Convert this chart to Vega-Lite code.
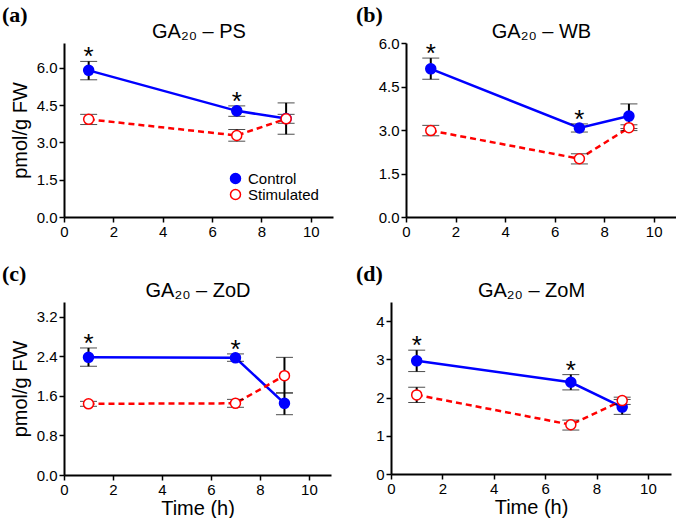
{
  "$schema": "https://vega.github.io/schema/vega-lite/v6.json",
  "padding": {"left": 2, "top": 4, "right": 0, "bottom": 0},
  "background": "white",
  "datasets": {
    "ga": [
      {"panel": "PS", "group": "Control", "time": 1, "mean": 5.9, "lo": 5.52, "hi": 6.26, "sig": 1},
      {"panel": "PS", "group": "Control", "time": 7, "mean": 4.27, "lo": 4.05, "hi": 4.47, "sig": 1},
      {"panel": "PS", "group": "Control", "time": 9, "mean": 3.96, "lo": 3.33, "hi": 4.59, "sig": 0},
      {"panel": "PS", "group": "Stimulated", "time": 1, "mean": 3.93, "lo": 3.72, "hi": 4.13, "sig": 0},
      {"panel": "PS", "group": "Stimulated", "time": 7, "mean": 3.28, "lo": 3.05, "hi": 3.52, "sig": 0},
      {"panel": "PS", "group": "Stimulated", "time": 9, "mean": 3.95, "lo": 3.77, "hi": 4.13, "sig": 0},
      {"panel": "WB", "group": "Control", "time": 1, "mean": 5.11, "lo": 4.75, "hi": 5.48, "sig": 1},
      {"panel": "WB", "group": "Control", "time": 7, "mean": 3.07, "lo": 2.93, "hi": 3.21, "sig": 1},
      {"panel": "WB", "group": "Control", "time": 9, "mean": 3.48, "lo": 3.05, "hi": 3.9, "sig": 0},
      {"panel": "WB", "group": "Stimulated", "time": 1, "mean": 2.98, "lo": 2.8, "hi": 3.16, "sig": 0},
      {"panel": "WB", "group": "Stimulated", "time": 7, "mean": 2.01, "lo": 1.83, "hi": 2.18, "sig": 0},
      {"panel": "WB", "group": "Stimulated", "time": 9, "mean": 3.08, "lo": 2.98, "hi": 3.18, "sig": 0},
      {"panel": "ZoD", "group": "Control", "time": 1, "mean": 2.38, "lo": 2.2, "hi": 2.57, "sig": 1},
      {"panel": "ZoD", "group": "Control", "time": 7, "mean": 2.37, "lo": 2.3, "hi": 2.45, "sig": 1},
      {"panel": "ZoD", "group": "Control", "time": 9, "mean": 1.45, "lo": 1.22, "hi": 1.66, "sig": 0},
      {"panel": "ZoD", "group": "Stimulated", "time": 1, "mean": 1.44, "lo": 1.39, "hi": 1.49, "sig": 0},
      {"panel": "ZoD", "group": "Stimulated", "time": 7, "mean": 1.45, "lo": 1.37, "hi": 1.53, "sig": 0},
      {"panel": "ZoD", "group": "Stimulated", "time": 9, "mean": 2.01, "lo": 1.66, "hi": 2.38, "sig": 0},
      {"panel": "ZoM", "group": "Control", "time": 1, "mean": 2.96, "lo": 2.68, "hi": 3.24, "sig": 1},
      {"panel": "ZoM", "group": "Control", "time": 7, "mean": 2.4, "lo": 2.2, "hi": 2.6, "sig": 1},
      {"panel": "ZoM", "group": "Control", "time": 9, "mean": 1.75, "lo": 1.56, "hi": 1.95, "sig": 0},
      {"panel": "ZoM", "group": "Stimulated", "time": 1, "mean": 2.07, "lo": 1.87, "hi": 2.27, "sig": 0},
      {"panel": "ZoM", "group": "Stimulated", "time": 7, "mean": 1.29, "lo": 1.15, "hi": 1.41, "sig": 0},
      {"panel": "ZoM", "group": "Stimulated", "time": 9, "mean": 1.92, "lo": 1.82, "hi": 2.01, "sig": 0}
    ]
  },
  "vconcat": [
    {
      "hconcat": [
        {
          "width": 269, "height": 174,
          "title": {"text": "(a)", "anchor": "start", "frame": "group", "dx": -62, "offset": -6, "font": "Liberation Serif", "fontWeight": "bold", "fontSize": 22, "color": "black"},
          "data": {"name": "ga"},
          "transform": [{"filter": "datum.panel == 'PS'"}],
          "layer": [
            {"transform": [{"filter": "datum.group == 'Control'"}],
             "mark": {"type": "line", "strokeWidth": 2.5, "color": "#0000FF"},
             "encoding": {
               "x": {"field": "time", "type": "quantitative", "scale": {"domain": [0, 10.9], "nice": false}, "axis": {"values": [0, 2, 4, 6, 8, 10], "title": null}},
               "y": {"field": "mean", "type": "quantitative", "scale": {"domain": [0, 7], "nice": false}, "axis": {"values": [0, 1.5, 3, 4.5, 6], "format": ".1f", "title": "pmol/g FW"}}
             }},
            {"transform": [{"filter": "datum.group == 'Stimulated'"}],
             "mark": {"type": "line", "strokeWidth": 2.5, "color": "#FF0000", "strokeDash": [6, 4]},
             "encoding": {
               "x": {"field": "time", "type": "quantitative", "scale": {"domain": [0, 10.9], "nice": false}, "axis": null},
               "y": {"field": "mean", "type": "quantitative", "scale": {"domain": [0, 7], "nice": false}, "title": "pmol/g FW"}
             }},
            {"mark": {"type": "errorbar", "ticks": {"size": 17, "strokeWidth": 2}, "rule": {"strokeWidth": 2}, "color": "black"},
             "encoding": {
               "x": {"field": "time", "type": "quantitative", "scale": {"domain": [0, 10.9], "nice": false}, "axis": null},
               "y": {"field": "lo", "type": "quantitative", "scale": {"domain": [0, 7], "nice": false}, "title": "pmol/g FW"},
               "y2": {"field": "hi"}
             }},
            {"mark": {"type": "point", "shape": "circle", "size": 100, "strokeWidth": 1.5, "opacity": 1, "fillOpacity": 1},
             "encoding": {
               "x": {"field": "time", "type": "quantitative", "scale": {"domain": [0, 10.9], "nice": false}, "axis": null},
               "y": {"field": "mean", "type": "quantitative", "scale": {"domain": [0, 7], "nice": false}, "title": "pmol/g FW"},
               "color": {"field": "group", "type": "nominal", "scale": {"domain": ["Control", "Stimulated"], "range": ["#0000FF", "#FF0000"]},
                 "legend": {"title": null, "orient": "bottom-right", "offset": 14, "labelFontSize": 15, "labelFont": "Liberation Sans", "labelColor": "black", "symbolType": "circle", "symbolSize": 100, "symbolStrokeWidth": 1.5, "labelOffset": 5, "rowPadding": -2, "padding": 0}},
               "fill": {"field": "group", "type": "nominal", "scale": {"domain": ["Control", "Stimulated"], "range": ["#0000FF", "#FFFFFF"]},
                 "legend": {"title": null, "orient": "bottom-right", "offset": 14, "labelFontSize": 15, "labelFont": "Liberation Sans", "labelColor": "black", "symbolType": "circle", "symbolSize": 100, "symbolStrokeWidth": 1.5, "labelOffset": 5, "rowPadding": -2, "padding": 0}}
             }},
            {"transform": [{"filter": "datum.sig == 1"}],
             "mark": {"type": "text", "text": "*", "fontSize": 26, "font": "Liberation Sans", "baseline": "alphabetic", "dy": 4, "color": "black"},
             "encoding": {
               "x": {"field": "time", "type": "quantitative", "scale": {"domain": [0, 10.9], "nice": false}, "axis": {"orient": "top", "title": "GA₂₀ – PS", "domain": false, "ticks": false, "labels": false, "titlePadding": 2}},
               "y": {"field": "hi", "type": "quantitative", "scale": {"domain": [0, 7], "nice": false}, "title": "pmol/g FW"}
             }}
          ],
          "resolve": {"axis": {"x": "independent"}}
        },
        {
          "width": 270, "height": 174,
          "title": {"text": "(b)", "anchor": "start", "frame": "group", "dx": -50, "offset": -6, "font": "Liberation Serif", "fontWeight": "bold", "fontSize": 22, "color": "black"},
          "data": {"name": "ga"},
          "transform": [{"filter": "datum.panel == 'WB'"}],
          "layer": [
            {"transform": [{"filter": "datum.group == 'Control'"}],
             "mark": {"type": "line", "strokeWidth": 2.5, "color": "#0000FF"},
             "encoding": {
               "x": {"field": "time", "type": "quantitative", "scale": {"domain": [0, 10.9], "nice": false}, "axis": {"values": [0, 2, 4, 6, 8, 10], "title": null}},
               "y": {"field": "mean", "type": "quantitative", "scale": {"domain": [0, 6], "nice": false}, "axis": {"values": [0, 1.5, 3, 4.5, 6], "format": ".1f", "title": null}}
             }},
            {"transform": [{"filter": "datum.group == 'Stimulated'"}],
             "mark": {"type": "line", "strokeWidth": 2.5, "color": "#FF0000", "strokeDash": [6, 4]},
             "encoding": {
               "x": {"field": "time", "type": "quantitative", "scale": {"domain": [0, 10.9], "nice": false}, "axis": null},
               "y": {"field": "mean", "type": "quantitative", "scale": {"domain": [0, 6], "nice": false}}
             }},
            {"mark": {"type": "errorbar", "ticks": {"size": 17, "strokeWidth": 2}, "rule": {"strokeWidth": 2}, "color": "black"},
             "encoding": {
               "x": {"field": "time", "type": "quantitative", "scale": {"domain": [0, 10.9], "nice": false}, "axis": null},
               "y": {"field": "lo", "type": "quantitative", "scale": {"domain": [0, 6], "nice": false}},
               "y2": {"field": "hi"}
             }},
            {"mark": {"type": "point", "shape": "circle", "size": 100, "strokeWidth": 1.5, "opacity": 1, "fillOpacity": 1},
             "encoding": {
               "x": {"field": "time", "type": "quantitative", "scale": {"domain": [0, 10.9], "nice": false}, "axis": null},
               "y": {"field": "mean", "type": "quantitative", "scale": {"domain": [0, 6], "nice": false}},
               "color": {"field": "group", "type": "nominal", "scale": {"domain": ["Control", "Stimulated"], "range": ["#0000FF", "#FF0000"]}, "legend": null},
               "fill": {"field": "group", "type": "nominal", "scale": {"domain": ["Control", "Stimulated"], "range": ["#0000FF", "#FFFFFF"]}, "legend": null}
             }},
            {"transform": [{"filter": "datum.sig == 1"}],
             "mark": {"type": "text", "text": "*", "fontSize": 26, "font": "Liberation Sans", "baseline": "alphabetic", "dy": 4, "color": "black"},
             "encoding": {
               "x": {"field": "time", "type": "quantitative", "scale": {"domain": [0, 10.9], "nice": false}, "axis": {"orient": "top", "title": "GA₂₀ – WB", "domain": false, "ticks": false, "labels": false, "titlePadding": 2}},
               "y": {"field": "hi", "type": "quantitative", "scale": {"domain": [0, 6], "nice": false}}
             }}
          ],
          "resolve": {"axis": {"x": "independent"}}
        }
      ],
      "spacing": 23,
      "resolve": {"scale": {"color": "independent", "fill": "independent"}, "legend": {"color": "independent", "fill": "independent"}}
    },
    {
      "hconcat": [
        {
          "width": 267, "height": 173,
          "title": {"text": "(c)", "anchor": "start", "frame": "group", "dx": -62, "offset": -6, "font": "Liberation Serif", "fontWeight": "bold", "fontSize": 22, "color": "black"},
          "data": {"name": "ga"},
          "transform": [{"filter": "datum.panel == 'ZoD'"}],
          "layer": [
            {"transform": [{"filter": "datum.group == 'Control'"}],
             "mark": {"type": "line", "strokeWidth": 2.5, "color": "#0000FF"},
             "encoding": {
               "x": {"field": "time", "type": "quantitative", "scale": {"domain": [0, 10.9], "nice": false}, "axis": {"values": [0, 2, 4, 6, 8, 10], "title": "Time (h)"}},
               "y": {"field": "mean", "type": "quantitative", "scale": {"domain": [0, 3.5], "nice": false}, "axis": {"values": [0, 0.8, 1.6, 2.4, 3.2], "format": ".1f", "title": "pmol/g FW"}}
             }},
            {"transform": [{"filter": "datum.group == 'Stimulated'"}],
             "mark": {"type": "line", "strokeWidth": 2.5, "color": "#FF0000", "strokeDash": [6, 4]},
             "encoding": {
               "x": {"field": "time", "type": "quantitative", "scale": {"domain": [0, 10.9], "nice": false}, "axis": null},
               "y": {"field": "mean", "type": "quantitative", "scale": {"domain": [0, 3.5], "nice": false}, "title": "pmol/g FW"}
             }},
            {"mark": {"type": "errorbar", "ticks": {"size": 17, "strokeWidth": 2}, "rule": {"strokeWidth": 2}, "color": "black"},
             "encoding": {
               "x": {"field": "time", "type": "quantitative", "scale": {"domain": [0, 10.9], "nice": false}, "axis": null},
               "y": {"field": "lo", "type": "quantitative", "scale": {"domain": [0, 3.5], "nice": false}, "title": "pmol/g FW"},
               "y2": {"field": "hi"}
             }},
            {"mark": {"type": "point", "shape": "circle", "size": 100, "strokeWidth": 1.5, "opacity": 1, "fillOpacity": 1},
             "encoding": {
               "x": {"field": "time", "type": "quantitative", "scale": {"domain": [0, 10.9], "nice": false}, "axis": null},
               "y": {"field": "mean", "type": "quantitative", "scale": {"domain": [0, 3.5], "nice": false}, "title": "pmol/g FW"},
               "color": {"field": "group", "type": "nominal", "scale": {"domain": ["Control", "Stimulated"], "range": ["#0000FF", "#FF0000"]}, "legend": null},
               "fill": {"field": "group", "type": "nominal", "scale": {"domain": ["Control", "Stimulated"], "range": ["#0000FF", "#FFFFFF"]}, "legend": null}
             }},
            {"transform": [{"filter": "datum.sig == 1"}],
             "mark": {"type": "text", "text": "*", "fontSize": 26, "font": "Liberation Sans", "baseline": "alphabetic", "dy": 4, "color": "black"},
             "encoding": {
               "x": {"field": "time", "type": "quantitative", "scale": {"domain": [0, 10.9], "nice": false}, "axis": {"orient": "top", "title": "GA₂₀ – ZoD", "domain": false, "ticks": false, "labels": false, "titlePadding": 2}},
               "y": {"field": "hi", "type": "quantitative", "scale": {"domain": [0, 3.5], "nice": false}, "title": "pmol/g FW"}
             }}
          ],
          "resolve": {"axis": {"x": "independent"}}
        },
        {
          "width": 280, "height": 172,
          "title": {"text": "(d)", "anchor": "start", "frame": "group", "dx": -35, "offset": -6, "font": "Liberation Serif", "fontWeight": "bold", "fontSize": 22, "color": "black"},
          "data": {"name": "ga"},
          "transform": [{"filter": "datum.panel == 'ZoM'"}],
          "layer": [
            {"transform": [{"filter": "datum.group == 'Control'"}],
             "mark": {"type": "line", "strokeWidth": 2.5, "color": "#0000FF"},
             "encoding": {
               "x": {"field": "time", "type": "quantitative", "scale": {"domain": [0, 10.9], "nice": false}, "axis": {"values": [0, 2, 4, 6, 8, 10], "title": "Time (h)"}},
               "y": {"field": "mean", "type": "quantitative", "scale": {"domain": [0, 4.5], "nice": false}, "axis": {"values": [0, 1, 2, 3, 4], "format": "d", "title": null}}
             }},
            {"transform": [{"filter": "datum.group == 'Stimulated'"}],
             "mark": {"type": "line", "strokeWidth": 2.5, "color": "#FF0000", "strokeDash": [6, 4]},
             "encoding": {
               "x": {"field": "time", "type": "quantitative", "scale": {"domain": [0, 10.9], "nice": false}, "axis": null},
               "y": {"field": "mean", "type": "quantitative", "scale": {"domain": [0, 4.5], "nice": false}}
             }},
            {"mark": {"type": "errorbar", "ticks": {"size": 17, "strokeWidth": 2}, "rule": {"strokeWidth": 2}, "color": "black"},
             "encoding": {
               "x": {"field": "time", "type": "quantitative", "scale": {"domain": [0, 10.9], "nice": false}, "axis": null},
               "y": {"field": "lo", "type": "quantitative", "scale": {"domain": [0, 4.5], "nice": false}},
               "y2": {"field": "hi"}
             }},
            {"mark": {"type": "point", "shape": "circle", "size": 100, "strokeWidth": 1.5, "opacity": 1, "fillOpacity": 1},
             "encoding": {
               "x": {"field": "time", "type": "quantitative", "scale": {"domain": [0, 10.9], "nice": false}, "axis": null},
               "y": {"field": "mean", "type": "quantitative", "scale": {"domain": [0, 4.5], "nice": false}},
               "color": {"field": "group", "type": "nominal", "scale": {"domain": ["Control", "Stimulated"], "range": ["#0000FF", "#FF0000"]}, "legend": null},
               "fill": {"field": "group", "type": "nominal", "scale": {"domain": ["Control", "Stimulated"], "range": ["#0000FF", "#FFFFFF"]}, "legend": null}
             }},
            {"transform": [{"filter": "datum.sig == 1"}],
             "mark": {"type": "text", "text": "*", "fontSize": 26, "font": "Liberation Sans", "baseline": "alphabetic", "dy": 4, "color": "black"},
             "encoding": {
               "x": {"field": "time", "type": "quantitative", "scale": {"domain": [0, 10.9], "nice": false}, "axis": {"orient": "top", "title": "GA₂₀ – ZoM", "domain": false, "ticks": false, "labels": false, "titlePadding": 2}},
               "y": {"field": "hi", "type": "quantitative", "scale": {"domain": [0, 4.5], "nice": false}}
             }}
          ],
          "resolve": {"axis": {"x": "independent"}}
        }
      ],
      "spacing": 25,
      "resolve": {"scale": {"color": "independent", "fill": "independent"}, "legend": {"color": "independent", "fill": "independent"}}
    }
  ],
  "spacing": 24,
  "resolve": {"scale": {"color": "independent", "fill": "independent"}, "legend": {"color": "independent", "fill": "independent"}},
  "config": {
    "view": {"stroke": null},
    "font": "Liberation Sans",
    "axis": {
      "grid": false,
      "domainColor": "black", "domainWidth": 2,
      "tickColor": "black", "tickWidth": 1.5, "tickSize": 5,
      "labelFont": "Liberation Sans", "labelFontSize": 15, "labelColor": "black", "labelPadding": 2,
      "labelFlush": false, "labelOverlap": false,
      "titleFont": "Liberation Sans", "titleFontSize": 20, "titleFontWeight": "normal", "titleColor": "black"
    },
    "axisY": {"titlePadding": 6},
    "axisX": {"titlePadding": 1}
  }
}
